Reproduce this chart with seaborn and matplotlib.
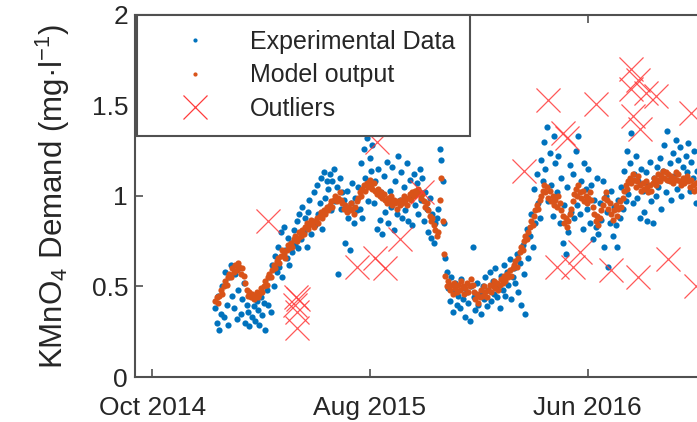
import numpy as np
import pandas as pd
import matplotlib
matplotlib.use("Agg")
import matplotlib.pyplot as plt
from matplotlib.lines import Line2D
import seaborn as sns

# ---------------- data ----------------
start_date = "2014-12-28"   # first sample, one sample every 2 days

model_output = [
    0.42,0.44,0.41,0.45,0.48,0.46,0.50,0.53,0.51,0.55,
    0.57,0.55,0.60,0.58,0.62,0.59,0.63,0.61,0.57,0.60,
    0.56,0.52,0.48,0.45,0.47,0.44,0.46,0.43,0.45,0.47,
    0.44,0.46,0.49,0.47,0.50,0.53,0.51,0.55,0.57,0.55,
    0.59,0.62,0.60,0.64,0.66,0.63,0.67,0.70,0.68,0.66,
    0.70,0.73,0.71,0.74,0.72,0.76,0.78,0.75,0.77,0.80,
    0.78,0.81,0.79,0.83,0.85,0.82,0.84,0.87,0.85,0.83,
    0.86,0.88,0.85,0.89,0.91,0.88,0.92,0.90,0.94,0.92,
    0.95,0.97,0.94,0.98,1.00,0.97,0.99,1.02,0.98,0.96,
    0.93,0.95,0.91,0.94,0.92,0.96,0.93,0.90,0.94,0.97,
    0.99,1.02,1.00,1.04,1.06,1.03,1.07,1.05,1.09,1.06,
    1.04,1.07,1.03,1.01,1.04,1.00,1.02,0.99,1.01,0.98,
    0.96,0.99,0.97,1.00,0.95,0.98,0.96,0.93,0.97,0.95,
    0.98,0.96,1.00,0.97,0.95,0.99,1.01,0.98,1.02,1.00,
    1.03,1.01,1.04,1.02,0.99,1.01,0.97,0.94,0.96,0.92,
    0.89,0.86,0.88,0.84,0.81,0.78,0.80,0.98,1.10,0.86,
    0.68,0.56,0.50,0.53,0.48,0.51,0.46,0.52,0.49,0.47,
    0.51,0.48,0.53,0.50,0.46,0.49,0.52,0.47,0.50,0.54,
    0.51,0.47,0.43,0.46,0.41,0.44,0.48,0.45,0.50,0.47,
    0.44,0.48,0.51,0.47,0.50,0.53,0.49,0.52,0.48,0.51,
    0.54,0.52,0.56,0.53,0.57,0.55,0.59,0.56,0.60,0.62,
    0.64,0.61,0.66,0.69,0.72,0.70,0.75,0.78,0.76,0.80,
    0.83,0.86,0.84,0.89,0.92,0.95,0.93,0.98,1.00,1.03,
    1.06,1.02,1.05,0.99,1.03,0.97,1.00,0.95,0.98,0.94,
    1.00,0.96,0.92,0.89,0.85,0.88,0.83,0.86,0.90,0.93,
    0.97,1.01,1.04,1.00,1.06,1.02,0.99,1.03,0.97,1.00,
    0.96,0.99,1.02,0.98,0.94,0.90,0.86,0.89,0.84,0.88,
    0.92,0.95,0.99,1.02,0.98,0.93,0.96,0.90,0.87,0.92,
    0.95,0.89,0.93,0.97,0.94,0.99,1.03,1.06,1.04,1.08,
    1.10,1.07,1.12,1.09,1.05,1.08,1.11,1.06,1.03,1.07,
    1.04,1.08,1.05,1.02,1.06,1.03,1.07,1.10,1.06,1.09,
    1.12,1.08,1.11,1.14,1.10,1.13,1.09,1.12,1.08,1.11,
    1.07,1.10,1.13,1.09,1.12,1.08,1.06,1.10,1.07,1.09,
    1.11,1.08,1.05,1.09,1.06,1.03,1.07,1.04,1.08,1.05,
]

experimental_data = [
    0.38,0.30,0.45,0.26,0.35,0.50,0.33,0.58,0.40,0.29,
    0.55,0.62,0.45,0.38,0.57,0.32,0.48,0.60,0.35,0.43,
    0.52,0.30,0.40,0.36,0.28,0.45,0.33,0.39,0.31,0.42,
    0.37,0.29,0.44,0.34,0.41,0.26,0.48,0.40,0.55,0.36,
    0.62,0.50,0.67,0.58,0.72,0.61,0.80,0.55,0.83,0.70,
    0.66,0.77,0.62,0.74,0.69,0.81,0.73,0.86,0.71,0.90,
    0.76,0.94,0.80,0.88,0.72,0.91,0.98,0.79,0.86,1.02,
    0.84,1.06,0.90,0.96,1.10,0.82,1.13,0.99,1.08,1.04,
    1.12,0.92,1.08,1.15,0.97,1.05,0.57,1.10,0.93,1.02,
    0.98,0.74,1.03,0.88,0.70,0.96,1.07,0.85,0.99,0.92,
    1.05,0.93,1.18,0.88,1.26,1.10,1.32,0.97,1.21,1.14,
    1.28,0.96,1.08,0.82,1.15,0.87,1.02,0.79,1.11,0.91,
    1.19,0.85,1.03,0.94,1.16,0.81,1.08,0.90,1.22,0.98,
    1.13,0.88,1.05,0.92,1.18,0.86,1.09,1.00,0.84,1.12,
    0.95,1.07,0.90,1.15,0.98,1.10,0.86,1.02,0.93,0.80,
    0.99,0.77,0.90,0.74,0.85,0.88,0.93,1.26,1.20,1.08,
    0.85,0.66,0.58,0.49,0.42,0.55,0.36,0.47,0.52,0.40,
    0.45,0.38,0.54,0.43,0.49,0.33,0.47,0.41,0.31,0.50,
    0.72,0.44,0.37,0.52,0.40,0.46,0.35,0.50,0.43,0.55,
    0.39,0.48,0.58,0.42,0.53,0.46,0.60,0.44,0.51,0.38,
    0.56,0.48,0.62,0.45,0.58,0.51,0.65,0.43,0.55,0.60,
    0.52,0.68,0.47,0.63,0.40,0.73,0.57,0.35,0.82,0.66,
    0.78,0.90,0.72,1.04,0.85,1.12,0.96,0.88,1.20,1.08,
    1.30,1.15,1.38,0.97,1.24,1.06,0.89,1.33,1.18,1.02,
    1.22,0.85,1.10,0.74,0.95,0.68,1.05,0.80,1.17,0.91,
    1.12,0.88,1.25,0.95,1.33,0.90,1.08,0.82,1.18,1.04,
    0.93,1.15,0.85,1.06,0.76,0.98,0.83,1.10,0.79,0.96,
    0.87,1.08,0.72,1.00,0.91,0.61,0.85,1.03,0.78,0.94,
    0.84,0.72,0.98,0.88,1.05,0.93,1.14,0.97,1.25,1.01,
    1.18,1.35,0.96,1.12,1.22,0.99,1.08,0.88,1.15,1.03,
    0.91,1.13,0.86,1.06,1.19,0.97,0.85,1.10,1.00,1.16,
    1.05,1.21,0.93,1.14,1.28,1.02,1.36,1.09,1.18,0.98,
    1.24,1.11,1.31,1.04,1.20,1.27,1.00,1.16,1.08,1.22,
    1.13,1.29,1.03,1.19,1.10,1.25,0.96,1.14,1.07,1.21,
]

outlier_dates = [
    "2015-03-12", "2015-04-20", "2015-04-23", "2015-04-19", "2015-04-21", "2015-04-21",
    "2015-07-14", "2015-08-08", "2015-08-22", "2015-09-12", "2015-08-11", "2015-10-14",
    "2016-03-04", "2016-04-06", "2016-04-27", "2016-05-03", "2016-06-12",
    "2016-04-19", "2016-05-21", "2016-05-12", "2016-07-04", "2016-08-10",
    "2016-07-31", "2016-08-10", "2016-07-31", "2016-08-22", "2016-09-05",
    "2016-08-03", "2016-08-13", "2016-09-22", "2016-10-24", "2016-10-31",
]
outlier_values = [
    0.86, 0.44, 0.43, 0.40, 0.36, 0.27,
    0.61, 0.66, 0.60, 0.76, 1.30, 1.02,
    1.14, 1.53, 1.35, 1.32, 1.51,
    0.61, 0.69, 0.61, 0.59, 0.55,
    1.70, 1.64, 1.59, 1.57, 1.55,
    1.44, 1.37, 0.65, 1.46, 0.50,
]

series_labels = ["Experimental Data", "Model output", "Outliers"]
tick_dates = ["2014-10-01", "2015-08-01", "2016-06-01"]
tick_labels = ["Oct 2014", "Aug 2015", "Jun 2016"]
ytick_values = [0, 0.5, 1, 1.5, 2]
ytick_labels = ["0", "0.5", "1", "1.5", "2"]
y_label = "KMnO$_\\mathregular{4}$ Demand (mg\u00b7l$^\\mathregular{-1}$)"

# ---------------- style ----------------
sns.set_theme(style="white")
plt.rcParams["font.family"] = ["Liberation Sans", "DejaVu Sans"]
plt.rcParams["mathtext.fontset"] = "custom"
plt.rcParams["mathtext.rm"] = "Liberation Sans"

BLUE = "#0072BD"
ORANGE = "#D95319"
RED = "#FF3B3B"
SPINE = "#505050"

dates_model = pd.date_range(start_date, periods=len(model_output), freq="2D")
dates_exp = pd.date_range(start_date, periods=len(experimental_data), freq="2D")
df_exp = pd.DataFrame({"date": dates_exp, "value": experimental_data})
df_mod = pd.DataFrame({"date": dates_model, "value": model_output})
df_out = pd.DataFrame({"date": pd.to_datetime(outlier_dates), "value": outlier_values})

fig = plt.figure(figsize=(6.97, 4.22), dpi=100)
ax = fig.add_axes([0.1937, 0.1066, 0.869, 0.858])

sns.scatterplot(data=df_exp, x="date", y="value", ax=ax, color=BLUE, s=20,
                linewidth=0, legend=False, zorder=2)
sns.scatterplot(data=df_mod, x="date", y="value", ax=ax, color=ORANGE, s=20,
                linewidth=0, legend=False, zorder=3)
sns.scatterplot(data=df_out, x="date", y="value", ax=ax, color=RED, marker="x",
                s=300, linewidth=0.9, alpha=0.85, legend=False, zorder=4)

ax.set_xticks(pd.to_datetime(tick_dates))
ax.set_xticklabels(tick_labels)
ax.set_yticks(ytick_values)
ax.set_yticklabels(ytick_labels)
ax.set_xlim(pd.Timestamp("2014-09-07"), pd.Timestamp("2017-01-01"))
ax.set_ylim(0, 2)
ax.set_xlabel("")
ax.set_ylabel(y_label, fontsize=22.5, color="#262626", labelpad=14)

ax.tick_params(axis="both", direction="in", length=6, width=1.2, color=SPINE,
               labelsize=19, labelcolor="#262626", top=True, bottom=True, left=True)
ax.tick_params(axis="x", pad=14)
ax.tick_params(axis="y", pad=5)
for sp in ax.spines.values():
    sp.set_visible(True)
    sp.set_color(SPINE)
    sp.set_linewidth(1.5)

handles = [
    Line2D([], [], linestyle="none", marker=".", markersize=4, color=BLUE),
    Line2D([], [], linestyle="none", marker=".", markersize=4, color=ORANGE),
    Line2D([], [], linestyle="none", marker="x", markersize=17, markeredgewidth=0.9,
           color=RED),
]
leg = ax.legend(handles, series_labels, loc="upper left", bbox_to_anchor=(0.003, 1.0),
                fontsize=18, frameon=True, fancybox=False, framealpha=1,
                edgecolor=SPINE, handlelength=3.44, handletextpad=0.48,
                borderpad=0.6, labelspacing=0.38, borderaxespad=0)
leg.get_frame().set_linewidth(1.5)

fig.savefig("out.png", dpi=100)
